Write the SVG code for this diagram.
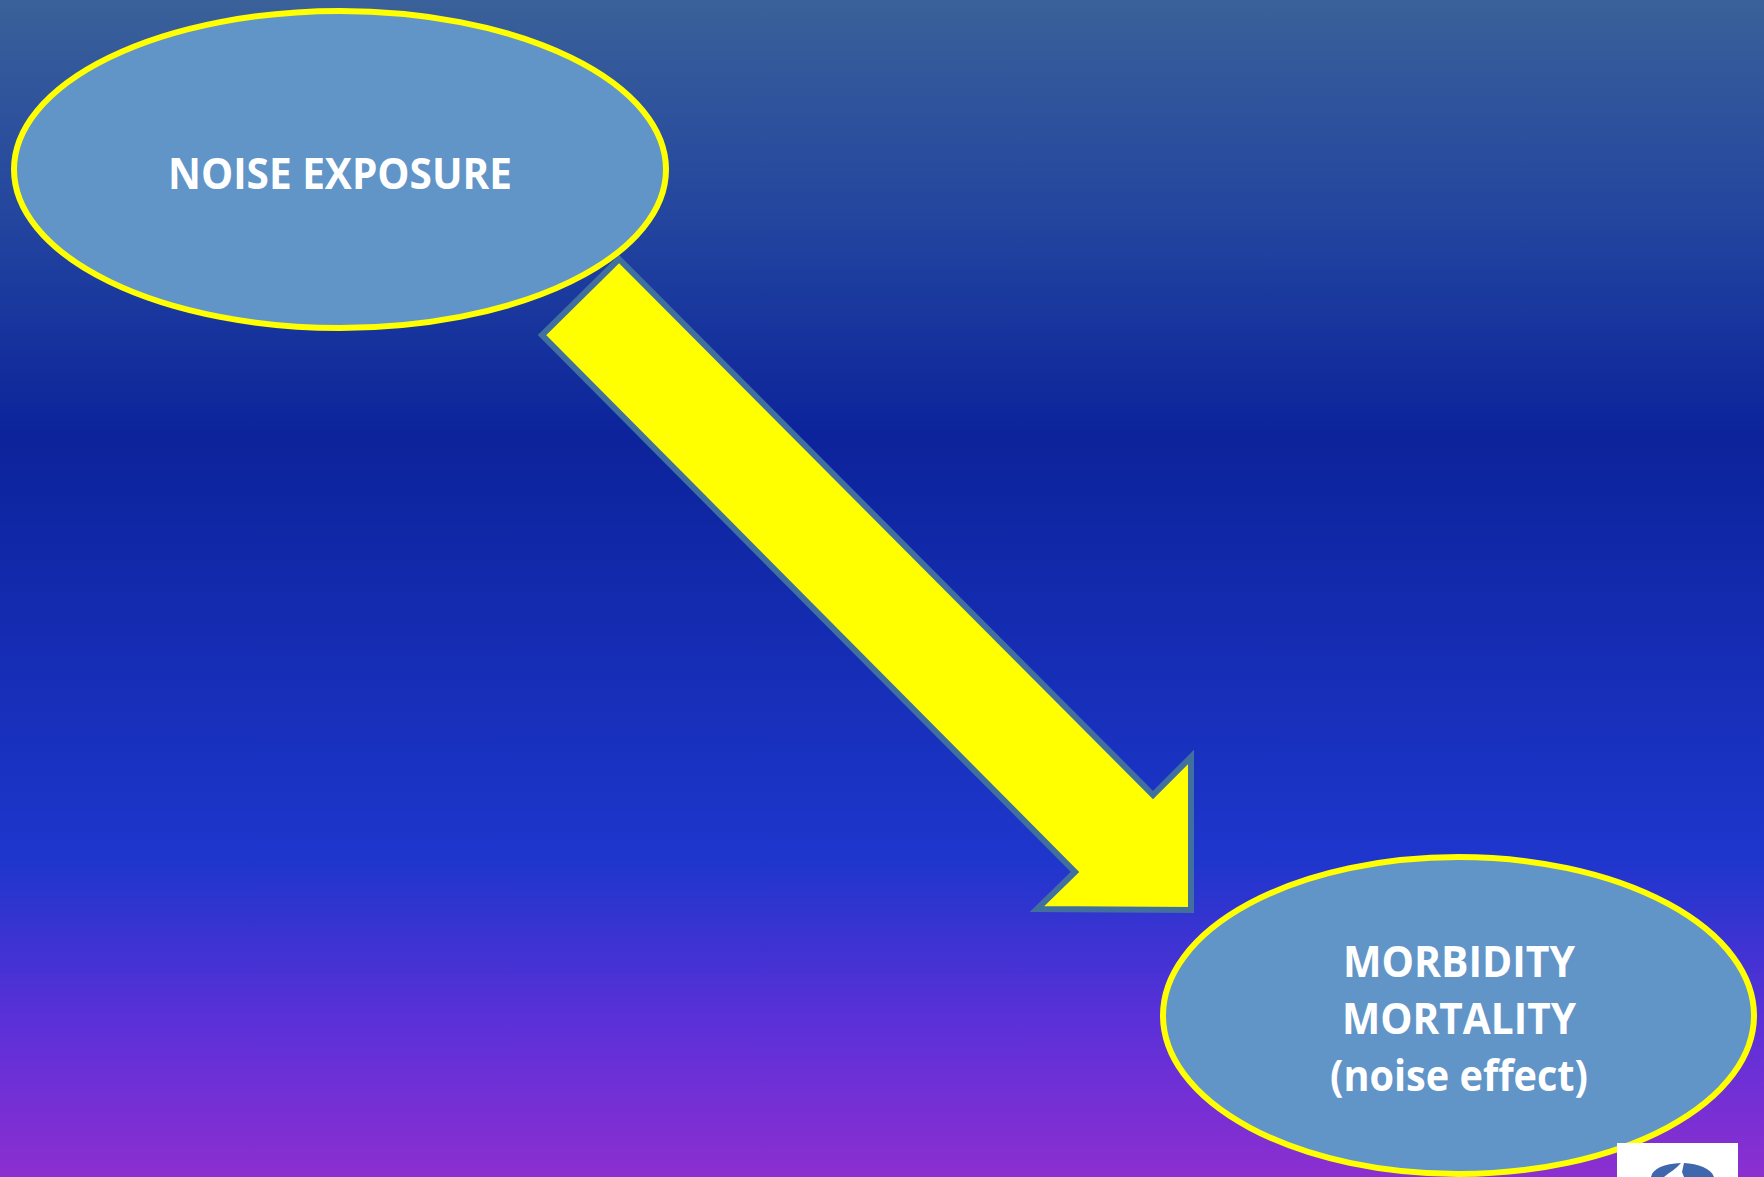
<svg xmlns="http://www.w3.org/2000/svg" width="1764" height="1177" viewBox="0 0 1764 1177">
<style>
.n{fill:#6195c8;stroke:#ffff00;stroke-width:6}
.t{font-family:"Open Sans","Noto Sans","Liberation Sans",sans-serif;font-weight:700;font-size:43px;fill:#fff;text-anchor:middle}
</style>
<defs><linearGradient id="bg" x1="0" y1="0" x2="0" y2="1">
<stop offset="0" stop-color="#3a6199"/>
<stop offset="0.2" stop-color="#21439f"/>
<stop offset="0.37" stop-color="#0c239b"/>
<stop offset="0.73" stop-color="#1e36cc"/>
<stop offset="0.87" stop-color="#5c30d8"/>
<stop offset="1" stop-color="#8c2fd0"/>
</linearGradient></defs>
<rect id="background" width="1764" height="1177" fill="url(#bg)"/>
<g id="connectors"><polygon points="619,259 1153,795 1191,757 1191,910 1037,909 1075,872 542,335" fill="#ffff00" stroke="#41709f" stroke-width="6"/></g>
<g id="noise-exposure"><ellipse class="n" cx="340" cy="169.5" rx="326" ry="158.5"/>
<text class="t" x="340" y="189" textLength="344" lengthAdjust="spacingAndGlyphs">NOISE EXPOSURE</text></g>
<g id="morbidity-mortality"><ellipse class="n" cx="1458.5" cy="1015.5" rx="295.5" ry="158.5"/>
<text class="t" x="1459" y="977" textLength="232" lengthAdjust="spacingAndGlyphs">MORBIDITY</text>
<text class="t" x="1459" y="1034" textLength="234" lengthAdjust="spacingAndGlyphs">MORTALITY</text>
<text class="t" x="1459" y="1091" textLength="258" lengthAdjust="spacingAndGlyphs">(noise effect)</text></g>
<g id="logo"><rect x="1617" y="1143" width="121" height="34" fill="#fff"/>
<path d="M1651,1177C1653,1168 1664,1164 1681,1163C1676,1169 1670,1172 1664,1177ZM1684,1163C1698,1164 1711,1168 1714,1177L1684,1177L1682,1172Z" fill="#3e67ae"/></g>
</svg>
